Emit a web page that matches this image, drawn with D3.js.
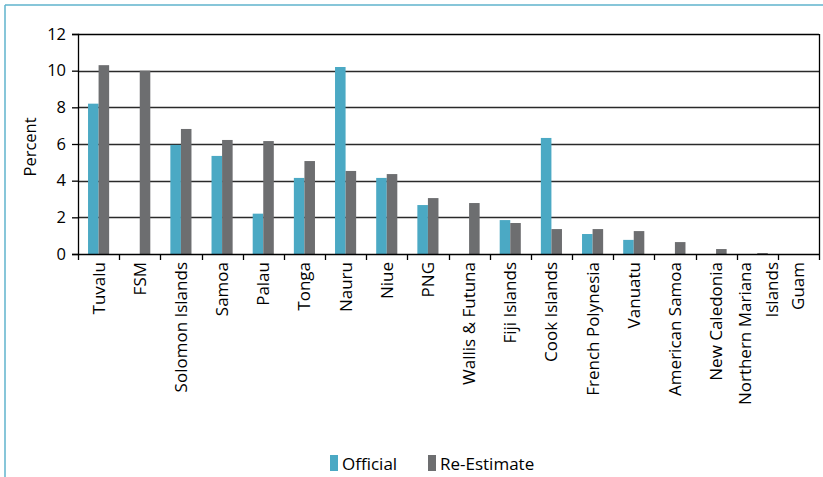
<!DOCTYPE html>
<html>
<head>
<meta charset="utf-8">
<script src="https://cdn.jsdelivr.net/npm/d3@7"></script>
<style>
  body { margin: 0; background: #fff; }
  text { font-family: "Open Sans", sans-serif; fill: #000; }
</style>
</head>
<body>
<div id="chart"></div>
<script>
// data
var countries = ["Tuvalu", "FSM", "Solomon Islands", "Samoa", "Palau", "Tonga", "Nauru", "Niue", "PNG",
  "Wallis & Futuna", "Fiji Islands", "Cook Islands", "French Polynesia", "Vanuatu", "American Samoa",
  "New Caledonia", "Northern Mariana Islands", "Guam"];
var official = [8.2, 0, 5.95, 5.35, 2.2, 4.15, 10.2, 4.15, 2.67, 0, 1.85, 6.33, 1.09, 0.77, 0, 0, 0, 0];
var reEstimate = [10.3, 10.0, 6.82, 6.22, 6.16, 5.07, 4.53, 4.36, 3.05, 2.78, 1.69, 1.36, 1.36, 1.25, 0.65, 0.27, 0.05, 0];
var yTicks = [0, 2, 4, 6, 8, 10, 12];
var seriesNames = ["Official", "Re-Estimate"];
var colors = ["#4ba9c4", "#6d6e70"];

var width = 823, height = 477;

var svg = d3.select('#chart').append('svg')
    .attr('width', width)
    .attr('height', height);

// frame
svg.append('line').attr('x1', 5).attr('x2', width).attr('y1', 5).attr('y2', 5)
    .style('stroke', '#5fb3cc').style('stroke-width', 1.5);
svg.append('line').attr('x1', 5).attr('x2', 5).attr('y1', 5).attr('y2', height)
    .style('stroke', '#5fb3cc').style('stroke-width', 1.5);

var x0 = 78, x1 = 819, yTop = 34, yBot = 254;

var xScale = d3.scaleBand().domain(countries).range([x0, x1]).paddingInner(0).paddingOuter(0);
var xSub = d3.scaleBand().domain(seriesNames).range([0, xScale.bandwidth()]).paddingOuter(0.95).paddingInner(0);
var yScale = d3.scaleLinear().domain([0, 12]).range([yBot, yTop]);

// grid
svg.append('g').selectAll('line.grid')
    .data(yTicks.filter(function(d) { return d > 0; }))
    .enter().append('line')
    .attr('x1', x0).attr('x2', x1)
    .attr('y1', function(d) { return Math.round(yScale(d)) + 0.5; })
    .attr('y2', function(d) { return Math.round(yScale(d)) + 0.5; })
    .style('stroke', function(d) { return d === 12 ? '#000' : '#2a2a2a'; })
    .style('stroke-width', 1.3);

// right border
svg.append('line').attr('x1', x1 + 0.5).attr('x2', x1 + 0.5).attr('y1', yTop).attr('y2', yBot)
    .style('stroke', '#000').style('stroke-width', 1.3);

// bars
var rows = countries.map(function(c, i) { return {c: c, v: [official[i], reEstimate[i]]}; });
var groups = svg.append('g').selectAll('g.grp')
    .data(rows).enter().append('g')
    .attr('transform', function(d) { return 'translate(' + xScale(d.c) + ',0)'; });

groups.selectAll('rect')
    .data(function(d) { return d.v.map(function(v, j) { return {k: seriesNames[j], v: v, j: j}; }); })
    .enter().append('rect')
    .attr('x', function(d) { return xSub(d.k); })
    .attr('width', xSub.bandwidth())
    .attr('y', function(d) { return yScale(d.v); })
    .attr('height', function(d) { return yBot - yScale(d.v); })
    .style('fill', function(d) { return colors[d.j]; });

// y axis
var yAxis = svg.append('g')
    .attr('transform', 'translate(' + x0 + ',0)')
    .call(d3.axisLeft(yScale).tickValues(yTicks).tickSize(6).tickPadding(6));
yAxis.selectAll('text').style('font-size', '16.5px').style('font-family', '"Open Sans", sans-serif');
yAxis.selectAll('line, path').style('stroke', '#000').style('stroke-width', 1.3);

// x axis
var xAxis = svg.append('g')
    .attr('transform', 'translate(0,' + yBot + ')')
    .call(d3.axisBottom(xScale).tickSize(0).tickFormat(''));
xAxis.select('path').style('stroke', '#000').style('stroke-width', 1.3);
svg.append('g').selectAll('line.xt')
    .data(countries.concat(['end']))
    .enter().append('line')
    .attr('x1', function(d, i) { return Math.round(x0 + i * xScale.step()) + 0.5; })
    .attr('x2', function(d, i) { return Math.round(x0 + i * xScale.step()) + 0.5; })
    .attr('y1', yBot).attr('y2', yBot + 6)
    .style('stroke', '#000').style('stroke-width', 1.3);

// x labels
svg.append('g').selectAll('text.xl')
    .data(countries).enter().append('text')
    .attr('transform', function(d) {
      return 'translate(' + (xScale(d) + xScale.bandwidth() / 2 + 6) + ',' + (yBot + 8) + ') rotate(-90)';
    })
    .attr('text-anchor', 'end')
    .style('font-size', '17px')
    .each(function(d) {
      var t = d3.select(this);
      if (d === "Northern Mariana Islands") {
        t.append('tspan').attr('x', 0).attr('dy', '-0.7em').text('Northern Mariana');
        t.append('tspan').attr('x', 0).attr('dy', '1.55em').text('Islands');
      } else {
        t.text(d);
      }
    });

// y title
svg.append('text')
    .attr('transform', 'translate(36,' + ((yTop + yBot) / 2 + 3) + ') rotate(-90)')
    .attr('text-anchor', 'middle')
    .style('font-size', '16.5px')
    .text('Percent');

// legend
var legend = svg.append('g').selectAll('g.lg')
    .data(seriesNames).enter().append('g')
    .attr('transform', function(d, i) { return 'translate(' + (330 + i * 98) + ',455)'; });
legend.append('rect').attr('width', 8).attr('height', 16)
    .style('fill', function(d, i) { return colors[i]; });
legend.append('text').attr('x', 12).attr('y', 15)
    .style('font-size', '17px')
    .text(function(d) { return d; });
</script>
</body>
</html>
